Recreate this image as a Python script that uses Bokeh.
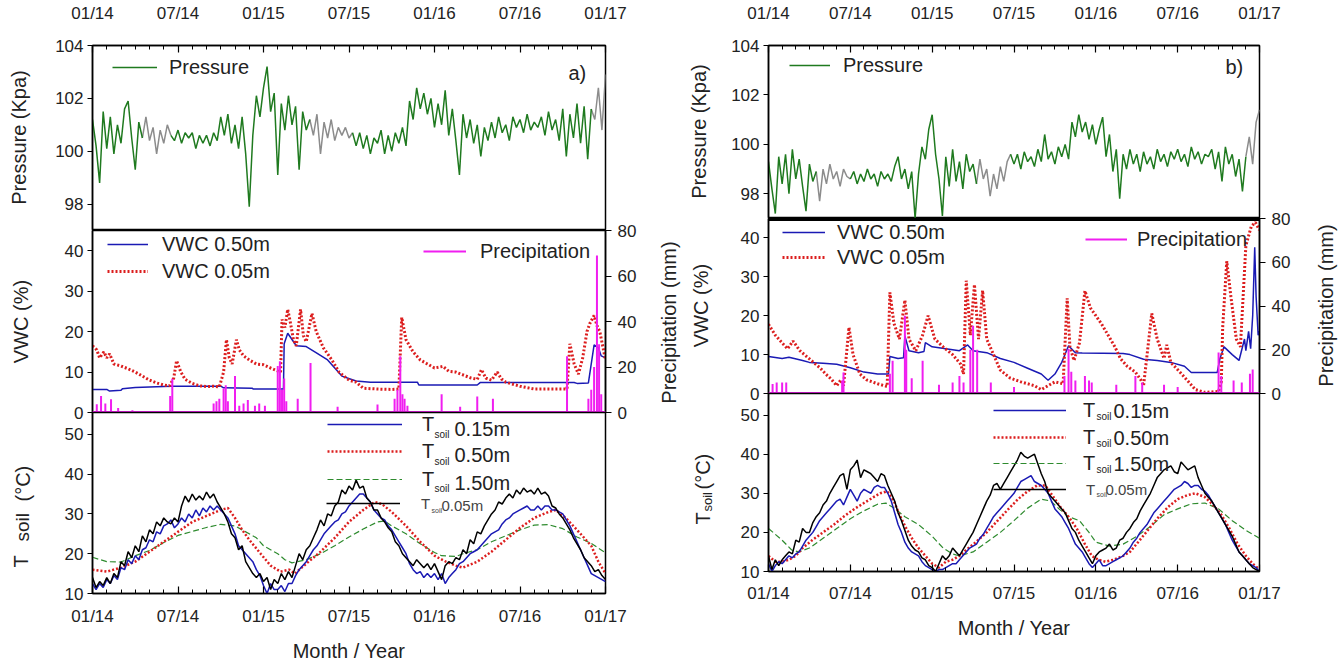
import math
import numpy as np
from bokeh.plotting import figure
from bokeh.layouts import column, row
from bokeh.models import (Range1d, LinearAxis, FixedTicker, Span, Label, Legend,
                          LegendItem, ColumnDataSource)
from bokeh.core.properties import value
from bokeh.embed import file_html
from bokeh.resources import INLINE

FONT = "Liberation Sans"
TXT = "#222222"

# ---------------- data ----------------
TICK_MONTHS = [0, 6, 12, 18, 24, 30, 36]          # months since Jan 2014
TICK_LABELS = ["01/14", "07/14", "01/15", "07/15", "01/16", "07/16", "01/17"]
MINOR_MONTHS = list(range(37))
STEP = 0.25                                        # months between regular samples

# Atmospheric pressure (kPa), site a, weekly samples
PRES_A = [101.2, 100.2, 98.8, 101.5, 100.1, 101.3, 99.9, 101.0, 100.3, 101.6, 101.9, 100.5,
          99.3, 101.1, 100.5, 101.3, 100.4, 100.9, 99.9, 100.8, 100.3, 101.0, 100.6, 100.4,
          100.8, 100.3, 100.7, 100.5, 100.7, 100.1, 100.6, 100.3, 100.6, 100.2, 100.7, 100.4,
          101.3, 100.6, 101.4, 100.3, 101.0, 100.1, 101.3, 99.9, 97.9, 100.6, 102.1, 101.3,
          102.4, 103.2, 101.5, 102.2, 99.1, 101.8, 100.8, 102.1, 101.0, 101.7, 99.3, 101.5,
          100.8, 101.2, 100.6, 101.4, 99.9, 101.1, 100.5, 101.2, 100.4, 100.9, 100.6, 100.9,
          100.5, 100.7, 100.2, 100.7, 100.1, 100.6, 99.9, 100.5, 100.3, 100.8, 99.9, 100.6,
          100.0, 100.7, 100.3, 100.9, 100.2, 101.9, 101.2, 102.4, 101.6, 102.2, 101.4, 102.0,
          100.9, 101.8, 101.0, 102.3, 100.6, 101.6, 100.4, 99.1, 101.4, 100.5, 101.2, 100.3,
          101.0, 99.8, 100.9, 100.4, 101.1, 100.5, 101.3, 100.7, 101.0, 100.4, 101.3, 100.9,
          101.2, 100.7, 101.4, 100.8, 101.1, 100.9, 101.3, 100.6, 101.5, 100.8, 101.2, 100.4,
          101.6, 99.8, 101.4, 100.5, 101.8, 100.3, 101.7, 99.7, 101.6, 101.2, 102.4, 100.8,
          102.9]
PRES_A_GRAY = [(3.5, 5.5), (15.25, 18.25), (35.0, 36.0)]

# Atmospheric pressure (kPa), site b
PRES_B = [99.3, 98.2, 97.2, 99.5, 98.4, 99.6, 98.0, 99.8, 98.6, 99.4, 98.3, 97.3,
          99.2, 98.5, 98.9, 97.7, 99.0, 98.4, 99.2, 98.6, 98.9, 98.3, 99.0, 98.7,
          98.6, 98.9, 98.4, 98.8, 98.5, 99.0, 98.6, 98.8, 98.3, 98.9, 98.6, 98.8,
          98.5, 99.1, 99.5, 98.6, 99.0, 98.2, 98.9, 97.0, 98.8, 99.9, 99.4, 100.6,
          101.2, 99.6, 98.6, 97.1, 99.5, 98.3, 99.8, 98.5, 99.3, 98.2, 99.6, 98.9,
          99.2, 98.4, 99.4, 98.6, 99.0, 97.9, 98.8, 98.2, 99.1, 98.5, 99.3, 99.6,
          99.2, 99.6, 99.0, 99.7, 99.3, 99.5, 99.1, 99.8, 99.3, 100.4, 99.4, 99.7,
          99.2, 99.9, 99.5, 100.0, 99.4, 100.9, 100.3, 101.2, 100.5, 100.9, 100.2, 100.8,
          100.0, 100.6, 101.1, 99.5, 100.4, 98.9, 99.8, 97.8, 99.6, 99.0, 99.8, 99.2,
          99.6, 98.9, 99.7, 99.2, 99.5, 99.0, 99.8, 99.3, 99.6, 99.1, 99.7, 99.4,
          99.8, 99.3, 99.6, 99.1, 99.9, 99.4, 99.7, 99.2, 99.6, 99.5, 99.8, 99.0,
          99.7, 98.5, 99.9, 99.2, 99.6, 98.7, 99.4, 98.1, 99.5, 100.3, 99.2, 100.9,
          101.4]
PRES_B_GRAY = [(3.5, 6.0), (15.25, 17.75), (35.0, 36.0)]

# Volumetric water content (%), (month, value)
VWC50_A = [(0, 5.7), (1.0, 5.7), (1.2, 5.3), (2.0, 5.5), (2.1, 5.9), (3.0, 6.2), (5.5, 6.5),
           (9.0, 6.5), (9.2, 6.1), (11.2, 6.0), (11.3, 5.8), (13.4, 5.8), (13.45, 17.0),
           (13.7, 19.6), (14.3, 16.5), (15.0, 16.3), (15.6, 15.0), (16.5, 13.0), (17.5, 9.0),
           (18.5, 7.8), (19.5, 7.5), (22.8, 7.5), (22.9, 6.8), (27.0, 6.8), (27.2, 7.4),
           (33.8, 7.4), (34.0, 7.2), (34.8, 7.3), (35.2, 16.7), (35.5, 16.0), (35.7, 14.0),
           (36.0, 13.5)]
VWC05_A = [(0, 16.5), (0.3, 15.5), (0.5, 13.5), (0.8, 15.0), (1.0, 13.5), (1.2, 14.5), (1.5, 12.0),
           (2.0, 11.5), (2.5, 10.8), (3.0, 10.0), (3.5, 9.0), (4.0, 8.0), (4.5, 7.3), (5.0, 6.8),
           (5.4, 6.6), (5.7, 8.5), (5.9, 12.8), (6.2, 10.0), (6.5, 8.2), (7.0, 7.2), (7.5, 6.6),
           (8.0, 6.4), (8.5, 6.5), (8.9, 6.3), (9.2, 10.0), (9.4, 18.0), (9.6, 13.5), (9.8, 12.0),
           (10.1, 18.0), (10.3, 15.5), (10.6, 14.0), (11.0, 13.0), (11.5, 12.0), (12.0, 11.8),
           (12.5, 11.0), (13.2, 10.0), (13.3, 23.0), (13.5, 21.0), (13.7, 25.5), (13.9, 22.0),
           (14.1, 18.0), (14.3, 16.5), (14.6, 25.5), (14.8, 19.0), (15.0, 17.5), (15.2, 21.0),
           (15.4, 24.5), (15.7, 20.0), (16.2, 16.0), (16.8, 13.0), (17.3, 10.0), (18.0, 8.0),
           (18.5, 7.5), (19.0, 6.0), (20.0, 5.8), (21.0, 5.7), (21.5, 5.8), (21.7, 23.5),
           (22.0, 18.0), (22.5, 15.0), (23.0, 13.0), (23.5, 12.0), (24.0, 11.0), (24.6, 11.4),
           (25.0, 10.2), (25.5, 10.0), (26.0, 9.3), (26.5, 8.6), (27.0, 8.2), (27.3, 10.6),
           (27.6, 8.5), (28.0, 8.0), (28.4, 10.0), (28.7, 8.3), (29.0, 7.5), (30.0, 6.5),
           (31.0, 5.8), (32.0, 5.8), (33.3, 5.8), (33.5, 17.0), (33.8, 12.0), (34.1, 9.5),
           (34.4, 13.5), (34.7, 20.0), (34.9, 22.0), (35.2, 24.0), (35.4, 21.5), (35.6, 20.0),
           (36.0, 13.0)]
VWC50_B = [(0, 9.5), (1.0, 9.0), (1.5, 9.3), (2.5, 8.5), (3.0, 8.0), (4.0, 7.8), (5.0, 7.5),
           (6.0, 6.6), (7.0, 5.5), (8.0, 5.0), (8.8, 5.0), (8.9, 9.5), (9.5, 9.0), (9.9, 9.2),
           (10.0, 14.8), (10.3, 11.0), (11.0, 10.5), (11.4, 10.8), (11.5, 13.1), (12.0, 12.0),
           (13.0, 11.5), (14.0, 11.0), (14.6, 12.5), (15.0, 11.0), (16.0, 10.5), (17.0, 9.0),
           (18.0, 8.0), (19.0, 6.5), (20.0, 5.0), (20.5, 3.4), (21.0, 5.0), (21.5, 8.0),
           (22.0, 12.3), (22.5, 10.5), (23.0, 10.4), (26.0, 10.3), (26.5, 10.0), (27.5, 8.8),
           (28.5, 8.5), (29.5, 8.0), (30.5, 7.0), (31.0, 5.4), (32.9, 5.4), (33.1, 9.0),
           (33.4, 12.0), (34.0, 10.0), (34.5, 8.5), (34.9, 14.0), (35.0, 11.0), (35.2, 16.0),
           (35.35, 11.5), (35.5, 20.0), (35.65, 37.6), (35.75, 25.0), (35.9, 15.0), (36.0, 16.0)]
VWC05_B = [(0, 17.8), (0.5, 15), (1, 13), (1.4, 11.5), (1.8, 13.5), (2.3, 11), (2.8, 9.5),
           (3.3, 8), (3.8, 6.5), (4.2, 5), (4.6, 3.7), (5.0, 2), (5.3, 3.5), (5.5, 2), (5.9, 17),
           (6.2, 10), (6.7, 5), (7.2, 3.5), (8.0, 2.5), (8.5, 2), (8.7, 1.8), (8.9, 26), (9.2, 18),
           (9.6, 14), (10.0, 24), (10.3, 14), (10.8, 11), (11.3, 15), (11.7, 20), (12.2, 14),
           (12.8, 12), (13.5, 10), (14.1, 7.5), (14.3, 5), (14.5, 29), (14.8, 15), (15.1, 28),
           (15.4, 14), (15.7, 26.5), (16.0, 14), (16.5, 10), (17.0, 6), (17.7, 4), (18.5, 3),
           (19.5, 2), (20.0, 1), (20.5, 2), (21.0, 3), (21.6, 2.5), (21.9, 24.5), (22.1, 12),
           (22.4, 8.5), (22.8, 13), (23.2, 26.4), (23.6, 22), (24.0, 20), (24.4, 18), (24.9, 15),
           (25.4, 12), (25.8, 9), (26.3, 7), (26.9, 5.5), (27.3, 3.5), (27.5, 2), (28.1, 20.6),
           (28.5, 14), (29.0, 9), (29.2, 12.5), (29.5, 8), (30.3, 5), (30.8, 3), (31.3, 1),
           (32.0, 0.3), (33.0, 0.5), (33.2, 3), (33.3, 17), (33.6, 34), (33.9, 25), (34.3, 14),
           (34.6, 12), (35.0, 38), (35.4, 43), (35.7, 44), (36.0, 42)]

# Precipitation events (month, mm)
PRECIP_A = [(0.3, 3.6), (0.6, 7.3), (0.9, 4), (1.3, 5.8), (1.8, 2), (2.8, 1), (3.4, 0.5),
            (5.45, 7.3), (5.6, 14.8), (8.5, 4), (8.7, 5), (8.9, 6), (9.2, 10.5), (9.35, 12),
            (9.5, 5), (10.0, 16), (10.3, 3), (10.6, 4), (10.9, 5.5), (11.4, 3), (11.7, 4),
            (12.1, 3), (13.0, 20.4), (13.15, 22.5), (13.3, 10), (13.45, 15), (13.6, 5),
            (14.4, 6), (15.3, 21.8), (17.2, 2.5), (20.0, 3.5), (21.2, 6), (21.4, 10),
            (21.6, 24.7), (21.75, 8), (21.9, 6), (22.1, 3), (24.5, 8), (25.8, 2.5), (27.0, 7),
            (28.1, 6), (33.3, 24.7), (34.8, 6), (35.0, 10), (35.2, 20), (35.4, 69),
            (35.55, 30), (35.7, 8)]
PRECIP_B = [(0.3, 4.3), (0.6, 5), (1.0, 5), (1.3, 5), (5.4, 6), (5.5, 9.6), (8.9, 9), (9.1, 15),
            (10.0, 35.6), (10.1, 20), (10.5, 7), (11.3, 15), (12.5, 4), (13.5, 5), (14.0, 8),
            (14.3, 5), (14.8, 20), (15.0, 31), (15.3, 20), (16.3, 5), (18.0, 3), (21.7, 8),
            (22.0, 20.3), (22.2, 10), (22.5, 6), (23.2, 8), (23.5, 6), (23.7, 5), (25.5, 4),
            (26.9, 8), (27.4, 5), (29.0, 4), (30.0, 3), (33.0, 18.8), (33.2, 8), (34.1, 6),
            (34.7, 5), (35.3, 9), (35.5, 11)]

# Soil temperature (deg C)
T05_A = [14, 11.5, 13, 12, 14, 12.5, 15, 14, 18, 17, 20.5, 19,
         22, 20.5, 24.5, 23, 26, 25, 28, 27, 29, 28, 27.5, 29,
         28, 32, 34.5, 33, 35, 33.5, 34.5, 33.5, 35.5, 34, 35, 33,
         31.5, 30, 28, 25, 24, 21, 22, 18, 16.5, 15, 14, 15,
         13, 14, 11, 13.5, 12.5, 15, 13.5, 15.5, 14, 17, 20, 18.5,
         21, 22, 24, 26, 28.5, 27, 30, 29.5, 32, 33, 36, 35,
         37, 36, 38.5, 36.5, 37, 34, 33, 31, 31, 29, 28, 26.5,
         25.5, 23, 22, 20, 19, 18, 17, 18.5, 17.5, 16.5, 17.5, 16,
         17.5, 15.5, 13.5, 17, 18, 17.5, 19, 18.5, 21, 20, 23.5, 22.5,
         25.5, 25, 27, 28.5, 30, 31, 33, 32.5, 34, 35, 34, 36,
         35, 36.5, 35.5, 36, 35, 36.5, 35, 35.5, 34.5, 32, 31.5, 30,
         29, 27.5, 26, 24, 22.5, 21, 19, 18, 17, 15.5, 16, 14.5,
         13.5]
T15_A = [12.5, 11, 12.5, 11.5, 13.5, 12.5, 14.5, 13.5, 16.5, 16, 18.5, 17.5,
         19.5, 18.5, 21, 21.5, 23.5, 23, 25.5, 25, 27, 27.5, 28.5, 26.5,
         27.5, 29, 28, 30, 29, 31, 29.5, 31.5, 30.5, 32, 31, 32,
         31, 30, 29, 27, 25, 22, 21, 20, 19, 18, 16, 14.5,
         12, 10, 12.5, 11, 11, 12, 10.5, 12.5, 12.5, 14.5, 16, 17,
         18, 19.5, 21, 22, 23.5, 25, 26, 27, 28, 28.5, 30, 30.5,
         32, 33, 34, 35, 35, 34, 33, 31, 30, 29, 28.5, 27,
         26, 24.5, 23, 21.5, 20, 17.5, 16, 15, 15.5, 14, 15, 14,
         15, 13.5, 15, 12.5, 14, 15, 16, 17.5, 18, 19, 20, 20.5,
         21, 22, 23, 24, 25, 25.5, 26, 27.5, 28.5, 29, 30, 30.5,
         31, 31.5, 32, 31, 31, 32, 31, 32, 32, 31, 31, 30.5,
         30, 28.5, 27, 25, 23, 21, 19, 17, 15, 14.5, 14, 13.5,
         13]
T50_A = [(0, 16), (1, 15.5), (2, 16.5), (3, 18), (4, 20.5), (5, 23), (6, 25.5), (7, 28),
         (8, 29.5), (9, 31), (9.5, 31.5), (10, 29), (10.5, 26), (11, 23.5), (11.8, 20),
         (12.5, 17), (13.2, 15.5), (13.8, 16), (14.2, 15), (15, 17.5), (16, 20.5), (17, 24),
         (18, 28), (19, 31), (19.8, 33), (20.3, 32.5), (21, 30.5), (22, 27), (23, 23),
         (24, 19.5), (24.8, 18), (25.5, 17), (26, 16.5), (27, 18), (28, 20.5), (29, 23.5),
         (30, 26.5), (31, 29), (32, 30.5), (32.5, 31), (33.2, 29), (34, 26), (35, 22),
         (35.5, 18), (36, 15)]
T150_A = [(0, 19.1), (1, 18), (2, 17.9), (3, 19.5), (4, 20.8), (5, 22.8), (6, 24.6), (7, 25.6),
          (8, 26.6), (9, 27.4), (10, 27), (10.5, 26), (11.5, 24), (12, 22), (13, 20), (13.5, 18.5),
          (14, 17.7), (15, 18.5), (16, 20), (17, 22), (18, 24.2), (19, 26.2), (20, 28),
          (20.5, 28.2), (21, 27), (22, 25), (23, 22.5), (24, 20.3), (24.5, 19.5), (25.5, 19.3),
          (26, 20), (27, 21), (28, 23), (29, 24.5), (30, 26), (31, 27.2), (32, 27.3), (33, 26.3),
          (34, 24.2), (35, 22.6), (36, 20.2)]

T05_B = [14, 10.5, 13, 11.5, 13, 14, 15, 14.5, 18, 17.5, 21, 20,
         20, 22.5, 24, 25, 27, 28, 30, 31.5, 33, 34.5, 35, 31,
         36, 37, 38.5, 34, 36, 35.5, 35, 34, 33, 35, 34.5, 32,
         30, 28, 25, 23, 20.5, 18, 16.5, 15.5, 15, 13.5, 13, 11.5,
         11, 10, 12, 14, 13, 14, 16, 15, 14, 15.5, 17, 18.5,
         20, 22, 24, 26, 28, 29.5, 32, 32.5, 31, 32.5, 34, 35.5,
         37, 38.5, 40.5, 39.5, 39, 39.5, 40, 37.5, 35, 33, 30, 29,
         28, 27, 26, 25, 23, 21, 20, 18, 16.5, 15, 13.5, 12,
         14, 15, 15.5, 16, 17, 15.5, 16, 18, 18.5, 20, 21, 22.5,
         23.5, 25.5, 27, 28.5, 30, 32, 34, 35, 36, 36.5, 37, 35.5,
         35, 38, 37, 36, 36.5, 37, 34, 32, 30, 29, 28, 26.5,
         25, 23.5, 22, 20.5, 19, 17, 15, 14, 13, 12, 11, 10.5,
         10]
T15_B = [12, 10, 11.5, 12.5, 12, 13, 14, 13.5, 14.5, 15, 16.5, 18,
         19, 20, 21.5, 23, 24, 25, 26, 27, 28, 28.5, 27, 29,
         31, 29.5, 28, 30, 31, 30.5, 30, 31.5, 32, 31.5, 31.5, 30,
         28, 25, 22, 20, 17.5, 16, 15, 14.5, 14, 12.5, 11.5, 11,
         10.5, 10, 10.5, 10.5, 11, 11.5, 12, 12, 13, 14, 15, 16,
         16.5, 17, 18.5, 19.5, 21, 22.5, 24, 25, 26, 27, 28, 29,
         30, 31.5, 33, 33.5, 34, 34.5, 33, 32.5, 32, 31, 30, 28,
         26, 25, 24, 22.5, 21, 19, 17, 16, 15, 13.5, 12, 11,
         12, 13, 11.5, 11.5, 12, 12.5, 13, 13.5, 14, 15, 16, 17.5,
         18.5, 20, 21, 22, 23.5, 25, 26, 27, 28, 29, 30, 31,
         31.5, 32, 33, 32.5, 31.5, 32, 32, 31, 30.5, 29.5, 28, 26.5,
         25, 23.5, 22, 20, 18, 16.5, 15, 14, 13, 12, 11.5, 11,
         10]
T50_B = [(0, 14), (0.5, 12.5), (1, 12.5), (1.5, 13), (2, 14), (2.5, 16), (3.2, 18), (4, 20),
         (4.8, 22), (5.5, 24), (6.3, 26), (7, 27.5), (7.7, 29), (8.2, 30), (8.7, 30.5), (9.2, 28),
         (9.6, 24.5), (10.1, 21), (10.6, 18), (11, 16), (11.5, 14), (12, 12), (12.5, 11), (13, 12.5),
         (13.5, 13), (14, 14), (14.5, 15.5), (15.2, 17.5), (16, 20), (16.8, 23), (17.6, 26),
         (18.3, 28.5), (19, 30.5), (19.7, 32), (20.3, 32), (20.8, 29.5), (21.4, 26.5), (22, 24),
         (22.6, 21), (23.2, 17), (23.7, 14), (24.2, 13), (24.7, 12.5), (25.3, 13), (26, 14),
         (26.5, 15), (27.1, 17.5), (27.8, 20.5), (28.5, 23.5), (29.3, 26.5), (30, 28.5),
         (30.7, 29.5), (31.3, 30), (32, 29), (32.6, 27), (33.2, 24.5), (33.8, 21), (34.4, 17),
         (35, 14), (35.5, 12), (36, 10.5)]
T150_B = [(0, 21), (1, 18), (1.7, 15.5), (2.2, 15), (3, 16), (4, 18.5), (5, 21), (6, 23.5),
          (7, 25.5), (8, 27.2), (8.6, 27.5), (9.3, 26), (10, 24), (11, 22), (12, 19), (12.8, 16),
          (13.5, 14.5), (14, 14), (15, 15), (16, 17.5), (17, 20), (18, 23), (19, 26.2), (20, 28.5),
          (20.7, 28), (21.3, 26), (22, 24), (22.8, 23), (23.5, 20), (24, 17.5), (25, 16.5),
          (26, 17), (27, 19), (28, 21.5), (29, 24.5), (30, 26), (31, 27.3), (32, 27.5), (33, 26),
          (34, 23), (35, 20.5), (36, 18.5)]

# ---------------- styling ----------------
GREEN = "#1f7a1f"
GRAY = "#8c8c8c"
BLUE = "#1a1ab4"
RED = "#dc1e1e"
MAG = "#f01ef0"
DKGREEN = "#2e8b2e"

X_RANGE = (0, 36)
P_RANGE = (97, 104)
V_RANGE = (0, 45)
R_RANGE = (0, 80)
T_RANGE = (10, 55.5)
OVER = 12          # px of transparent border that overlaps the neighbouring panel
PAGE_H = 664


def unzip(pairs):
    t, v = zip(*pairs)
    return list(t), list(v)


def regular(vals):
    return list(np.arange(len(vals)) * STEP), list(vals)


def split_gray(vals, gray):
    t = np.arange(len(vals)) * STEP
    v = np.array(vals, dtype=float)
    inner = np.zeros(len(v), bool)
    closed = np.zeros(len(v), bool)
    for a, b in gray:
        inner |= (t > a + 1e-9) & (t < b - 1e-9)
        closed |= (t >= a - 1e-9) & (t <= b + 1e-9)
    green = np.where(inner, np.nan, v)
    grey = np.where(closed, v, np.nan)
    return t, green, grey


def px2data(g, px, py):
    x = X_RANGE[0] + (px - g["left"]) / g["w"] * (X_RANGE[1] - X_RANGE[0])
    y = g["y1"] - (py - g["top"]) / g["h"] * (g["y1"] - g["y0"])
    return x, y


def base_fig(width, height, bl, br, bt, bb, yr, transparent=False):
    p = figure(width=width, height=height, x_range=Range1d(*X_RANGE), y_range=Range1d(*yr),
               output_backend="svg", toolbar_location=None, title=None,
               x_axis_location=None, y_axis_location=None,
               min_border_left=bl, min_border_right=br, min_border_top=bt, min_border_bottom=bb)
    p.grid.visible = False
    p.outline_line_color = "black"
    p.outline_line_width = 1.5
    p.background_fill_color = "white"
    p.border_fill_color = "white"
    if transparent:
        p.border_fill_alpha = 0
    return p


def style_axis(ax):
    ax.axis_line_color = "black"
    ax.axis_line_width = 1.5
    ax.major_tick_line_color = "black"
    ax.major_tick_line_width = 1.2
    ax.minor_tick_line_color = "black"
    ax.minor_tick_line_width = 1
    ax.major_label_text_font = FONT
    ax.major_label_text_font_size = "17px"
    ax.major_label_text_color = TXT
    ax.axis_label_text_font = FONT
    ax.axis_label_text_font_size = "20px"
    ax.axis_label_text_font_style = "normal"
    ax.axis_label_text_color = TXT


def x_axis(label_standoff, title=None, title_standoff=0):
    ax = LinearAxis(ticker=FixedTicker(ticks=TICK_MONTHS, minor_ticks=MINOR_MONTHS))
    style_axis(ax)
    ax.major_label_overrides = {m: s for m, s in zip(TICK_MONTHS, TICK_LABELS)}
    ax.major_tick_in = 7
    ax.major_tick_out = 0
    ax.minor_tick_in = 4
    ax.minor_tick_out = 0
    ax.major_label_standoff = label_standoff
    if title:
        ax.axis_label = title
        ax.axis_label_standoff = title_standoff
    return ax


def y_axis(ticks, range_name="default"):
    ax = LinearAxis(ticker=FixedTicker(ticks=ticks), y_range_name=range_name)
    style_axis(ax)
    ax.major_tick_in = 0
    ax.major_tick_out = 5
    ax.minor_tick_line_color = None
    ax.major_label_standoff = 4
    return ax


def legend_entry(p, g, renderer, text, gx0, gx1, tx, py, size=20, color=TXT):
    lg = Legend(items=[LegendItem(label=value(text), renderers=[renderer])],
                location=(gx0 - g["left"], g["top"] + g["h"] - py - 12),
                glyph_width=gx1 - gx0, glyph_height=24, label_height=24, label_width=5,
                label_standoff=tx - gx1, padding=0, spacing=0, margin=0,
                border_line_alpha=0, background_fill_alpha=0,
                label_text_font=FONT, label_text_font_size=f"{size}px",
                label_text_color=color, label_text_baseline="middle")
    p.add_layout(lg)


def text(p, g, s, px, py, size=20, color=TXT):
    x, y = px2data(g, px, py)
    p.add_layout(Label(x=x, y=y, text=s, text_font=FONT, text_font_size=f"{size}px",
                       text_align="left", text_baseline="middle", text_color=color))


def build_column(c):
    left, fw, right = c["left"], c["fw"], c["right"]
    W = left + fw + right
    fl = c["frame_left"]
    # ---- pressure ----
    gp = dict(left=fl, w=fw, top=44, h=c["hp"], y0=P_RANGE[0], y1=P_RANGE[1])
    pp = base_fig(W, 44 + c["hp"], left, right, 44, 0, P_RANGE)
    pp.add_layout(x_axis(23), "above")
    pp.add_layout(y_axis([98, 100, 102, 104]), "left")
    t, gv, yv = split_gray(c["pres"], c["gray"])
    pp.line(t, yv, line_color=GRAY, line_width=1.5)
    r_pres = pp.line(t, gv, line_color=GREEN, line_width=1.5)
    lp = c["leg_p"]
    legend_entry(pp, gp, r_pres, "Pressure", lp[0], lp[1], lp[2], lp[3])
    text(pp, gp, c["tag"], c["tag_pos"][0], c["tag_pos"][1], size=20)

    # ---- VWC + precipitation ----
    gv_ = dict(left=fl, w=fw, top=44 + c["hp"], h=c["hv"], y0=V_RANGE[0], y1=V_RANGE[1])
    pv = base_fig(W, c["hv"] + 2 * OVER, left, right, OVER, OVER, V_RANGE, transparent=True)
    pv.margin = (-OVER, 0, 0, 0)
    pv.extra_y_ranges = {"precip": Range1d(*R_RANGE)}
    pv.add_layout(y_axis([0, 10, 20, 30, 40]), "left")
    rax = y_axis([0, 20, 40, 60, 80], range_name="precip")
    rax.major_tick_out = 6
    rax.major_label_standoff = 6
    pv.add_layout(rax, "right")
    tb, vb = unzip(c["vwc50"])
    r_v50 = pv.line(tb, vb, line_color=BLUE, line_width=1.5)
    tr, vr = unzip(c["vwc05"])
    r_v05 = pv.line(tr, vr, line_color=RED, line_width=3, line_dash="2 2")
    tpp, mm = unzip(c["precip"])
    src = ColumnDataSource(dict(t=tpp, mm=mm))
    r_pr = pv.segment(x0="t", y0=0, x1="t", y1="mm", source=src, line_color=MAG,
                      line_width=2, y_range_name="precip")
    pv.add_layout(Span(location=0, dimension="width", line_color=MAG, line_width=3))
    if c["thick_top"]:
        pv.add_layout(Span(location=V_RANGE[1], dimension="width", line_color="black",
                           line_width=5))
    lv = c["leg_v"]
    legend_entry(pv, gv_, r_v50, "VWC 0.50m", *lv[0])
    legend_entry(pv, gv_, r_v05, "VWC 0.05m", *lv[1])
    legend_entry(pv, gv_, r_pr, "Precipitation", *lv[2])

    # ---- soil temperature ----
    top_t = 44 + c["hp"] + c["hv"]
    gt = dict(left=fl, w=fw, top=top_t, h=c["ht"], y0=T_RANGE[0], y1=T_RANGE[1])
    pt = base_fig(W, OVER + c["ht"] + c["bottom"], left, right, OVER, c["bottom"], T_RANGE,
                  transparent=True)
    pt.margin = (-2 * OVER, 0, 0, 0)
    pt.add_layout(x_axis(c["xl_so"], "Month / Year", c["xt_so"]), "below")
    pt.add_layout(y_axis([10, 20, 30, 40, 50]), "left")
    x, y = unzip(c["t150"])
    r150 = pt.line(x, y, line_color=DKGREEN, line_width=1.2, line_dash="6 3")
    x, y = unzip(c["t50"])
    r50 = pt.line(x, y, line_color=RED, line_width=2.5, line_dash="2 2")
    x, y = regular(c["t15"])
    r15 = pt.line(x, y, line_color=BLUE, line_width=1.5)
    x, y = regular(c["t05"])
    r05 = pt.line(x, y, line_color="black", line_width=1.5)
    L = c["leg_t"]
    for r, depth, py in zip([r15, r50, r150], ["0.15m", "0.50m", "1.50m"], L["rows"]):
        legend_entry(pt, gt, r, "T", L["g0"], L["g1"], L["T"], py, size=20)
        text(pt, gt, "soil", L["soil"], py + 6, size=10)
        text(pt, gt, depth, L["depth"], py, size=20)
    b = L["black"]
    legend_entry(pt, gt, r05, "T", b["g0"], b["g1"], b["T"], b["py"], size=15, color="#444444")
    text(pt, gt, "soil", b["soil"], b["py"] + 5, size=7, color="#444444")
    text(pt, gt, "0.05m", b["depth"], b["py"], size=15, color="#444444")
    return column(pp, pv, pt, spacing=0)


def title_strip(x0, width, labels):
    """A narrow panel holding the rotated axis titles (positions in page pixels)."""
    p = figure(width=width, height=PAGE_H, x_range=Range1d(x0, x0 + width),
               y_range=Range1d(PAGE_H, 0), output_backend="svg", toolbar_location=None,
               title=None, x_axis_location=None, y_axis_location=None, min_border=0)
    p.grid.visible = False
    p.outline_line_color = None
    p.background_fill_color = "white"
    p.border_fill_color = "white"
    for s, px, py, size, align in labels:
        p.add_layout(Label(x=px, y=py, text=s, angle=math.pi / 2, text_align=align,
                           text_baseline="middle", text_font=FONT,
                           text_font_size=f"{size}px", text_color=TXT))
    return p


COL_A = dict(left=52, fw=513, right=50, frame_left=92, hp=186, hv=182, ht=186, bottom=66,
             pres=PRES_A, gray=PRES_A_GRAY, vwc50=VWC50_A, vwc05=VWC05_A, precip=PRECIP_A,
             t05=T05_A, t15=T15_A, t50=T50_A, t150=T150_A, thick_top=False,
             xl_so=13, xt_so=11,
             tag="a)", tag_pos=(568, 72),
             leg_p=(112, 157, 169, 67),
             leg_v=[(107, 148, 162, 244), (107, 148, 162, 271), (423, 466, 480, 251)],
             leg_t=dict(rows=[429, 456, 484], g0=327, g1=402, T=422, soil=434, depth=454,
                        black=dict(g0=326, g1=400, T=421, soil=431, depth=441, py=508)))

COL_B = dict(left=52, fw=491, right=36, frame_left=768, hp=174, hv=175, ht=178, bottom=93,
             pres=PRES_B, gray=PRES_B_GRAY, vwc50=VWC50_B, vwc05=VWC05_B, precip=PRECIP_B,
             t05=T05_B, t15=T15_B, t50=T50_B, t150=T150_B, thick_top=True,
             xl_so=12, xt_so=11,
             tag="b)", tag_pos=(1225, 66),
             leg_p=(789, 830, 843, 65),
             leg_v=[(782, 825, 837, 232), (782, 825, 837, 257), (1085, 1127, 1137, 239)],
             leg_t=dict(rows=[410, 437, 463], g0=993, g1=1066, T=1083, soil=1096, depth=1113,
                        black=dict(g0=993, g1=1066, T=1086, soil=1096, depth=1105, py=489)))

# rotated axis titles: (text, x, y, font px, anchor)
TITLES_LEFT = [("Pressure (Kpa)", 18, 137, 20, "center"), ("VWC (%)", 20, 321, 20, "center"),
               ("T", 20, 567, 20, "left"), ("soil", 22, 541, 19, "left"),
               ("(°C)", 22, 501, 20, "left")]
TITLES_MID = [("Precipitation (mm)", 668, 322, 20, "center"),
              ("Pressure (Kpa)", 698, 131, 20, "center"), ("VWC (%)", 700, 305, 20, "center"),
              ("T", 702, 524, 20, "left"), ("soil", 707, 511, 13, "left"),
              ("(°C)", 702, 489, 20, "left")]
TITLES_RIGHT = [("Precipitation (mm)", 1325, 305, 20, "center")]

layout = row(title_strip(0, 40, TITLES_LEFT),
             build_column(COL_A),
             title_strip(655, 61, TITLES_MID),
             build_column(COL_B),
             title_strip(1295, 44, TITLES_RIGHT),
             spacing=0)

with open("out.html", "w") as f:
    f.write(file_html(layout, INLINE, title="Pressure, VWC, precipitation and soil temperature"))
